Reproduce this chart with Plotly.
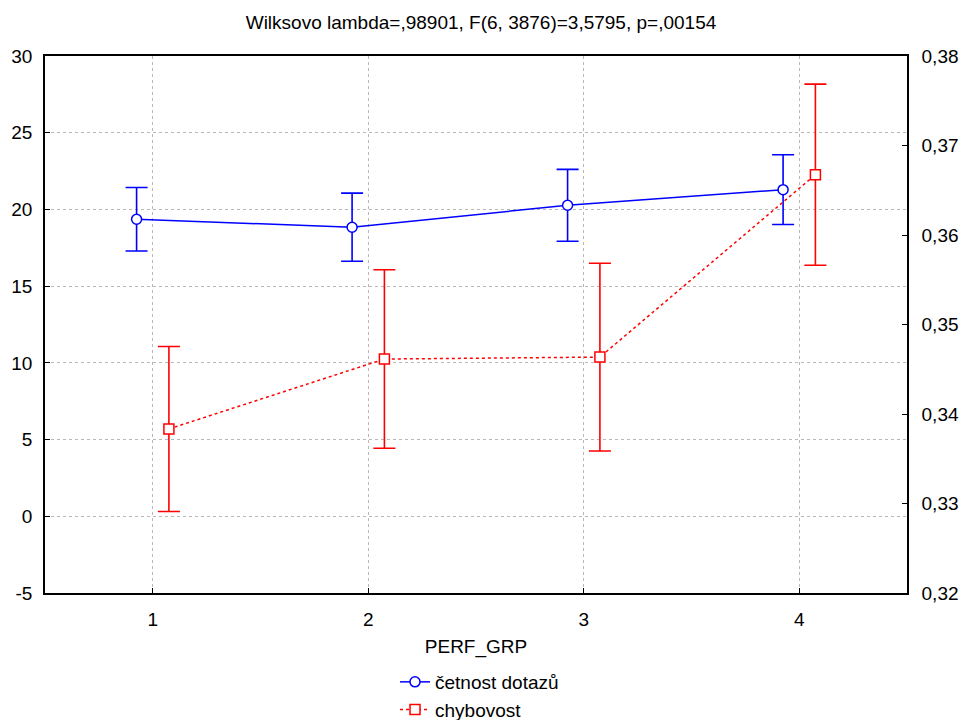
import plotly.graph_objects as go

# Group means with confidence half-widths per performance group
groups = [1, 2, 3, 4]
cetnost_mean = [19.36, 18.84, 20.27, 21.29]
cetnost_err = [2.07, 2.22, 2.34, 2.27]
chybovost_mean = [0.33833, 0.34614, 0.34636, 0.36674]
chybovost_err = [0.00922, 0.00997, 0.01049, 0.01012]

left_ticks = [-5, 0, 5, 10, 15, 20, 25, 30]
left_ticktext = ["-5", "0", "5", "10", "15", "20", "25", "30"]
right_ticks = [0.32, 0.33, 0.34, 0.35, 0.36, 0.37, 0.38]
right_ticktext = ["0,32", "0,33", "0,34", "0,35", "0,36", "0,37", "0,38"]

shift = 0.075
FONT = "Liberation Sans, Arial, sans-serif"
BLUE = "#0000ff"
RED = "#ff0000"

fig = go.Figure()

fig.add_trace(go.Scatter(
    x=[g - shift for g in groups], y=cetnost_mean,
    name="četnost dotazů",
    mode="lines+markers",
    line=dict(color=BLUE, width=1.5),
    marker=dict(symbol="circle", size=10, color="white",
                line=dict(color=BLUE, width=1.5)),
    error_y=dict(type="data", array=cetnost_err, visible=True,
                 color=BLUE, thickness=1.6, width=11),
    yaxis="y",
))

fig.add_trace(go.Scatter(
    x=[g + shift for g in groups], y=chybovost_mean,
    name="chybovost",
    mode="lines+markers",
    line=dict(color=RED, width=1.5, dash="dot"),
    marker=dict(symbol="square", size=10, color="white",
                line=dict(color=RED, width=1.5)),
    error_y=dict(type="data", array=chybovost_err, visible=True,
                 color=RED, thickness=1.6, width=11),
    yaxis="y2",
))

fig.update_layout(
    width=962, height=720,
    margin=dict(l=45, r=55, t=56, b=127, autoexpand=False),
    paper_bgcolor="white", plot_bgcolor="white",
    font=dict(family=FONT, size=18, color="black"),
    title=dict(text="Wilksovo lambda=,98901, F(6, 3876)=3,5795, p=,00154",
               x=0.5, xanchor="center", y=1 - 22 / 720, yanchor="middle",
               font=dict(size=19, family=FONT)),
    xaxis=dict(
        range=[0.5, 4.5], tickvals=groups, ticktext=[str(g) for g in groups],
        ticks="inside", ticklen=5, tickcolor="black", ticklabelstandoff=8,
        tickfont=dict(size=19),
        showline=True, linecolor="black", linewidth=1.5, mirror=True,
        showgrid=True, gridcolor="#b8b8b8", griddash="dot", gridwidth=1,
        zeroline=False,
        title=dict(text="PERF_GRP", font=dict(size=19), standoff=11),
    ),
    yaxis=dict(
        range=[-5, 30], tickvals=left_ticks, ticktext=left_ticktext,
        ticks="inside", ticklen=5, tickcolor="black", ticklabelstandoff=7,
        tickfont=dict(size=19),
        showline=True, linecolor="black", linewidth=1.5,
        showgrid=True, gridcolor="#b8b8b8", griddash="dot", gridwidth=1,
        zeroline=False,
    ),
    yaxis2=dict(
        range=[0.32, 0.38], tickvals=right_ticks, ticktext=right_ticktext,
        overlaying="y", side="right",
        ticks="inside", ticklen=5, tickcolor="black", ticklabelstandoff=9,
        tickfont=dict(size=19),
        showline=True, linecolor="black", linewidth=1.5,
        showgrid=False, zeroline=False,
    ),
    showlegend=True,
    legend=dict(
        x=395 / 962, xref="container", xanchor="left",
        y=1 - 663 / 720, yref="container", yanchor="top",
        font=dict(size=19), bgcolor="rgba(0,0,0,0)",
        tracegroupgap=0, itemwidth=30,
    ),
)

fig.write_html("out.html")
